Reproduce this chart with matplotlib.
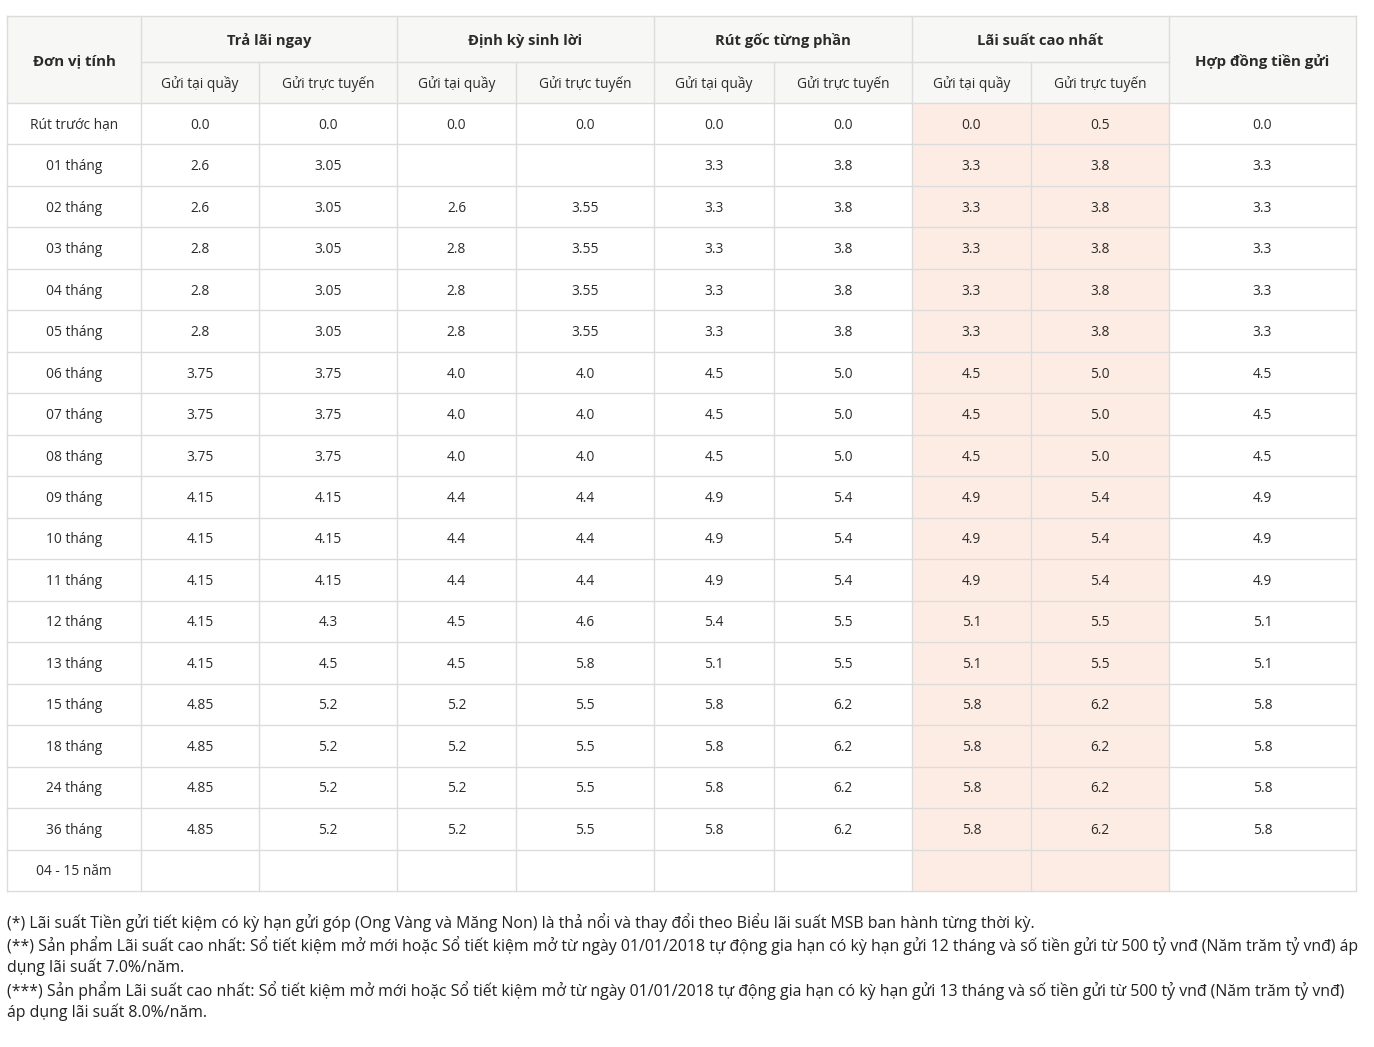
import matplotlib.pyplot as plt
from matplotlib.patches import Rectangle

plt.rcParams['font.family'] = ['Open Sans', 'DejaVu Sans']

# ---- data ----
terms = ['Rút trước hạn', '01 tháng', '02 tháng', '03 tháng', '04 tháng', '05 tháng',
         '06 tháng', '07 tháng', '08 tháng', '09 tháng', '10 tháng', '11 tháng',
         '12 tháng', '13 tháng', '15 tháng', '18 tháng', '24 tháng', '36 tháng', '04 - 15 năm']
tra_lai_quay = ['0.0', '2.6', '2.6', '2.8', '2.8', '2.8', '3.75', '3.75', '3.75', '4.15', '4.15',
                '4.15', '4.15', '4.15', '4.85', '4.85', '4.85', '4.85', '']
tra_lai_online = ['0.0', '3.05', '3.05', '3.05', '3.05', '3.05', '3.75', '3.75', '3.75', '4.15', '4.15',
                  '4.15', '4.3', '4.5', '5.2', '5.2', '5.2', '5.2', '']
dinh_ky_quay = ['0.0', '', '2.6', '2.8', '2.8', '2.8', '4.0', '4.0', '4.0', '4.4', '4.4',
                '4.4', '4.5', '4.5', '5.2', '5.2', '5.2', '5.2', '']
dinh_ky_online = ['0.0', '', '3.55', '3.55', '3.55', '3.55', '4.0', '4.0', '4.0', '4.4', '4.4',
                  '4.4', '4.6', '5.8', '5.5', '5.5', '5.5', '5.5', '']
rut_goc_quay = ['0.0', '3.3', '3.3', '3.3', '3.3', '3.3', '4.5', '4.5', '4.5', '4.9', '4.9',
                '4.9', '5.4', '5.1', '5.8', '5.8', '5.8', '5.8', '']
rut_goc_online = ['0.0', '3.8', '3.8', '3.8', '3.8', '3.8', '5.0', '5.0', '5.0', '5.4', '5.4',
                  '5.4', '5.5', '5.5', '6.2', '6.2', '6.2', '6.2', '']
cao_nhat_quay = ['0.0', '3.3', '3.3', '3.3', '3.3', '3.3', '4.5', '4.5', '4.5', '4.9', '4.9',
                 '4.9', '5.1', '5.1', '5.8', '5.8', '5.8', '5.8', '']
cao_nhat_online = ['0.5', '3.8', '3.8', '3.8', '3.8', '3.8', '5.0', '5.0', '5.0', '5.4', '5.4',
                   '5.4', '5.5', '5.5', '6.2', '6.2', '6.2', '6.2', '']
hop_dong = ['0.0', '3.3', '3.3', '3.3', '3.3', '3.3', '4.5', '4.5', '4.5', '4.9', '4.9',
            '4.9', '5.1', '5.1', '5.8', '5.8', '5.8', '5.8', '']

groups = ['Trả lãi ngay', 'Định kỳ sinh lời', 'Rút gốc từng phần', 'Lãi suất cao nhất']
sub_labels = ['Gửi tại quầy', 'Gửi trực tuyến']
first_header = 'Đơn vị tính'
last_header = 'Hợp đồng tiền gửi'

notes = [
    '(*) Lãi suất Tiền gửi tiết kiệm có kỳ hạn gửi góp (Ong Vàng và Măng Non) là thả nổi và thay đổi theo Biểu lãi suất MSB ban hành từng thời kỳ.',
    '(**) Sản phẩm Lãi suất cao nhất: Sổ tiết kiệm mở mới hoặc Sổ tiết kiệm mở từ ngày 01/01/2018 tự động gia hạn có kỳ hạn gửi 12 tháng và số tiền gửi từ 500 tỷ vnđ (Năm trăm tỷ vnđ) áp',
    'dụng lãi suất 7.0%/năm.',
    '(***) Sản phẩm Lãi suất cao nhất: Sổ tiết kiệm mở mới hoặc Sổ tiết kiệm mở từ ngày 01/01/2018 tự động gia hạn có kỳ hạn gửi 13 tháng và số tiền gửi từ 500 tỷ vnđ (Năm trăm tỷ vnđ)',
    'áp dụng lãi suất 8.0%/năm.',
]

columns = [terms, tra_lai_quay, tra_lai_online, dinh_ky_quay, dinh_ky_online,
           rut_goc_quay, rut_goc_online, cao_nhat_quay, cao_nhat_online, hop_dong]

# ---- layout (pixels) ----
W, H = 1374, 1047
col_x = [7, 141, 259, 397, 516, 654, 774, 912, 1031, 1169, 1356]
top, mid, head_bot, bottom = 16, 62, 103, 891
row_h = (bottom - head_bot) / len(terms)
grid_c = '#dcdcdc'
head_bg = '#f7f7f5'
hi_bg = '#fdece4'
txt_c = '#2b2b2b'

fig = plt.figure(figsize=(W / 100, H / 100), dpi=100)
ax = fig.add_axes([0, 0, 1, 1])
ax.set_xlim(0, W)
ax.set_ylim(H, 0)
ax.axis('off')

# backgrounds
ax.add_patch(Rectangle((col_x[0], top), col_x[-1] - col_x[0], head_bot - top, color=head_bg, lw=0))
ax.add_patch(Rectangle((col_x[7], head_bot), col_x[9] - col_x[7], bottom - head_bot, color=hi_bg, lw=0))

# grid lines
lk = dict(color=grid_c, lw=1)
ax.plot([col_x[0], col_x[-1]], [top, top], **lk)
ax.plot([col_x[1], col_x[9]], [mid, mid], **lk)
for i in range(len(terms) + 1):
    y = head_bot + i * row_h
    ax.plot([col_x[0], col_x[-1]], [y, y], **lk)
for i, x in enumerate(col_x):
    y0 = mid if i in (2, 4, 6, 8) else top
    ax.plot([x, x], [y0, bottom], **lk)

# headers
hk = dict(ha='center', va='center', color=txt_c)
ax.text((col_x[0] + col_x[1]) / 2, (top + head_bot) / 2 + 2, first_header, fontsize=10.8, fontweight='bold', **hk)
ax.text((col_x[9] + col_x[10]) / 2, (top + head_bot) / 2 + 2, last_header, fontsize=10.8, fontweight='bold', **hk)
for g, name in enumerate(groups):
    x0, x1, x2 = col_x[1 + 2 * g], col_x[2 + 2 * g], col_x[3 + 2 * g]
    ax.text((x0 + x2) / 2, (top + mid) / 2 + 2, name, fontsize=10.6, fontweight='bold', **hk)
    ax.text((x0 + x1) / 2, (mid + head_bot) / 2 + 1.5, sub_labels[0], fontsize=9.9, **hk)
    ax.text((x1 + x2) / 2, (mid + head_bot) / 2 + 1.5, sub_labels[1], fontsize=9.9, **hk)

# body
for c, vals in enumerate(columns):
    xc = (col_x[c] + col_x[c + 1]) / 2
    for r, v in enumerate(vals):
        yc = head_bot + (r + 0.5) * row_h + 1.5
        ax.text(xc, yc, v, fontsize=9.9, **hk)

# footnotes
note_y = [922.5, 945.5, 967.5, 990.5, 1012.5]
for y, t in zip(note_y, notes):
    ax.text(7, y, t, fontsize=11.4, ha='left', va='center', color='#222222')

fig.savefig('out.png', dpi=100, facecolor='white')
